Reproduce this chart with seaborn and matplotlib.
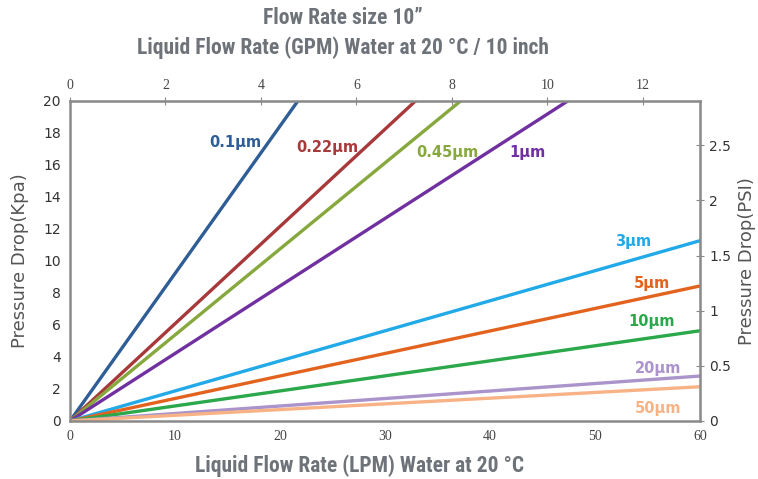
import pandas as pd
import matplotlib
matplotlib.use('Agg')
import matplotlib.pyplot as plt
import seaborn as sns

# filter grades and where each line ends (LPM, kPa)
grades = ['0.1µm', '0.22µm', '0.45µm', '1µm', '3µm', '5µm', '10µm', '20µm', '50µm']
end_lpm = [21.7, 32.9, 37.2, 47.4, 60, 60, 60, 60, 60]
end_kpa = [20, 20, 20, 20, 11.27, 8.44, 5.64, 2.81, 2.14]
colors = ['#2f5d96', '#a8393a', '#86a83c', '#7030a0', '#22aae8',
          '#e2631e', '#2aa84a', '#ab93cb', '#f7b386']

# label spots (LPM, kPa)
lab_x = [15.7, 24.5, 35.9, 43.6, 53.6, 55.4, 55.4, 56.0, 56.0]
lab_y = [17.4, 17.1, 16.75, 16.75, 11.2, 8.6, 6.2, 3.3, 0.75]

rows = []
for g, xe, ye in zip(grades, end_lpm, end_kpa):
    rows.append({'grade': g, 'lpm': 0, 'kpa': 0})
    rows.append({'grade': g, 'lpm': xe, 'kpa': ye})
df = pd.DataFrame(rows)

sns.set_style('white')
fig = plt.figure(figsize=(7.58, 4.79), dpi=100)
ax = fig.add_axes([70/758, 1 - 421/479, 630/758, 320/479])

sns.lineplot(data=df, x='lpm', y='kpa', hue='grade', palette=colors,
             hue_order=grades, linewidth=2.4, legend=False, ax=ax, sort=False)

ax.set_xlim(0, 60)
ax.set_ylim(0, 20)
ax.set_xticks(range(0, 61, 10))
ax.set_yticks(range(0, 21, 2))
spine_col = '#8a8a8a'
for s in ax.spines.values():
    s.set_color(spine_col)
    s.set_linewidth(1.8)
ax.tick_params(axis='x', direction='inout', length=6, color=spine_col, labelsize=10,
               labelcolor='#444444', labelfontfamily='Liberation Serif')
ax.tick_params(axis='y', direction='inout', length=6, color=spine_col, labelsize=10,
               labelcolor='#333333')
ax.set_xlabel('')
ax.set_ylabel('Pressure Drop(Kpa)', fontsize=13, color='#555555', labelpad=10)

# top axis in GPM (imperial gallon)
top = ax.secondary_xaxis('top', functions=(lambda x: x / 4.546, lambda g: g * 4.546))
top.set_xticks(range(0, 13, 2))
top.tick_params(direction='inout', length=6, color=spine_col, labelsize=10,
                labelcolor='#444444', labelfontfamily='Liberation Serif')
top.spines['top'].set_color(spine_col)

# right axis in PSI
right = ax.secondary_yaxis('right', functions=(lambda k: k / 6.895, lambda p: p * 6.895))
right.set_yticks([0, 0.5, 1, 1.5, 2, 2.5])
right.set_yticklabels(['0', '0.5', '1', '1.5', '2', '2.5'])
right.tick_params(direction='inout', length=6, color=spine_col, labelsize=10,
                  labelcolor='#333333')
right.spines['right'].set_color(spine_col)
right.set_ylabel('Pressure Drop(PSI)', fontsize=13, color='#555555', labelpad=5)

for g, x, y, c in zip(grades, lab_x, lab_y, colors):
    ax.text(x, y, g, color=c, fontsize=10.5, fontweight='bold', ha='center', va='center')

title_font = ['Roboto Condensed', 'Liberation Sans Narrow', 'Liberation Sans', 'DejaVu Sans']
title_kw = dict(ha='center', va='center', fontsize=15.5, fontweight='bold',
                color='#6e7379', family=title_font, fontstretch='condensed')
fig.text(343/758, 1 - 18/479, 'Flow Rate size 10”', **title_kw)
fig.text(343/758, 1 - 48/479, 'Liquid Flow Rate (GPM) Water at 20 °C / 10 inch', **title_kw)
fig.text(360/758, 1 - 466/479, 'Liquid Flow Rate (LPM) Water at 20 °C', **title_kw)

fig.savefig('out.png', dpi=100)
